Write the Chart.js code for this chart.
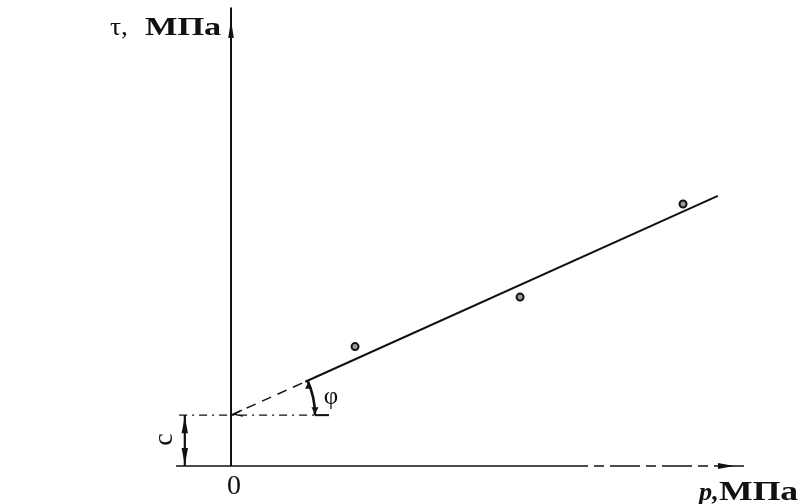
<!DOCTYPE html>
<html>
<head>
<meta charset="utf-8">
<script src="https://cdn.jsdelivr.net/npm/chart.js@4/dist/chart.umd.min.js"></script>
<style>
body { margin: 0; background: #fff; }
canvas { display: block; }
</style>
</head>
<body>
<canvas id="chart" width="807" height="504"></canvas>
<script>
// measured points (p, tau) in chart units
var pValues = [2.39, 5.57, 8.71];
var tauValues = [2.63, 3.72, 5.77];
// fitted line: tau = c + k*p
var cValue = 1.12;
var lineEnds = [0, 1.43, 9.38]; // start, end of dashed part, end of solid part
var slope = (5.95 - cValue) / 9.38;

var points = pValues.map(function (p, i) { return {x: p, y: tauValues[i]}; });
var fit = lineEnds.map(function (p) { return {x: p, y: cValue + slope * p}; });

var annotate = {
    id: 'annotate',
    afterDatasetsDraw: function (chart) {
        var ctx = chart.ctx;
        var sx = chart.scales.x, sy = chart.scales.y;
        var ox = sx.getPixelForValue(0), oy = sy.getPixelForValue(0);
        var cy = sy.getPixelForValue(cValue);
        var bx = sx.getPixelForValue(-0.89);
        ctx.save();
        ctx.fillStyle = '#111';
        ctx.strokeStyle = '#111';

        function tri(x, y, dir, len, w) {
            ctx.beginPath();
            if (dir == 'up') { ctx.moveTo(x, y); ctx.lineTo(x - w, y + len); ctx.lineTo(x + w, y + len); }
            if (dir == 'down') { ctx.moveTo(x, y); ctx.lineTo(x - w, y - len); ctx.lineTo(x + w, y - len); }
            if (dir == 'right') { ctx.moveTo(x, y); ctx.lineTo(x - len, y - w); ctx.lineTo(x - len, y + w); }
            ctx.closePath();
            ctx.fill();
        }
        // text a little wider, like the scanned original
        function wide(txt, x, y, font, sc) {
            ctx.save();
            ctx.font = font;
            ctx.translate(x, y);
            ctx.scale(sc, 1);
            ctx.textAlign = 'left';
            ctx.fillText(txt, 0, 0);
            ctx.restore();
        }
        // axis arrows
        tri(ox, sy.getPixelForValue(10) + 8, 'up', 18, 2.8);
        tri(sx.getPixelForValue(10) - 16, oy, 'right', 16, 3);
        // c bracket arrows
        tri(bx, cy + 1, 'up', 17, 3.2);
        tri(bx, oy - 1, 'down', 17, 3.2);

        // small arrow to the axis at the intercept
        ctx.lineWidth = 1.4;
        ctx.beginPath();
        ctx.moveTo(ox + 11, cy - 5);
        ctx.lineTo(ox + 3, cy - 1);
        ctx.lineTo(ox + 12, cy + 1);
        ctx.stroke();

        // phi arc
        var ang = Math.atan2(sy.getPixelForValue(cValue + slope) - cy, sx.getPixelForValue(1) - ox);
        ctx.lineWidth = 2.6;
        ctx.beginPath();
        ctx.arc(ox, cy, 84, ang, 0);
        ctx.stroke();
        tri(ox + 84 * Math.cos(ang) + 1, cy + 84 * Math.sin(ang) + 1, 'up', 7, 3.5);
        tri(ox + 84, cy - 1, 'down', 7, 3.5);
        ctx.lineWidth = 2;
        ctx.beginPath();
        ctx.moveTo(ox + 84, cy);
        ctx.lineTo(ox + 98, cy);
        ctx.stroke();

        // texts
        ctx.textBaseline = 'alphabetic';
        wide('τ,', 110, 35, '25px "Liberation Serif", serif', 1.1);
        wide('МПа', 145, 35, 'bold 26px "Liberation Serif", serif', 1.32);
        wide('p,', 699, 500, 'bold italic 25px "Liberation Serif", serif', 1.05);
        wide('МПа', 719, 500, 'bold 27px "Liberation Serif", serif', 1.32);
        ctx.textAlign = 'center';
        ctx.font = '28px "Liberation Serif", serif';
        ctx.fillText('0', ox + 3, 494);
        ctx.font = '25px "Liberation Serif", serif';
        ctx.fillText('φ', ox + 100, cy - 11);
        ctx.translate(165, (cy + oy) / 2 - 1);
        ctx.rotate(-Math.PI / 2);
        ctx.textBaseline = 'middle';
        ctx.font = '28px "Liberation Serif", serif';
        ctx.fillText('c', 0, 0);
        ctx.restore();
    }
};

var black = '#111';
new Chart(document.getElementById('chart').getContext('2d'), {
    type: 'scatter',
    data: {
        datasets: [
            {data: [{x: 0, y: 0}, {x: 0, y: 10.1}], showLine: true, borderColor: black, borderWidth: 2, pointRadius: 0},
            {data: [{x: -1.06, y: 0}, {x: 6.3, y: 0}], showLine: true, borderColor: black, borderWidth: 1.7, pointRadius: 0},
            {data: [{x: 6.3, y: 0}, {x: 10, y: 0}], showLine: true, borderColor: black, borderWidth: 1.5, borderDash: [30, 6, 10, 6], pointRadius: 0},
            {data: [{x: -1.0, y: cValue}, {x: 1.9, y: cValue}], showLine: true, borderColor: black, borderWidth: 1.3, borderDash: [8, 5, 2, 5], pointRadius: 0},
            {data: [{x: -0.89, y: 0}, {x: -0.89, y: cValue}], showLine: true, borderColor: black, borderWidth: 2.2, pointRadius: 0},
            {data: fit.slice(0, 2), showLine: true, borderColor: black, borderWidth: 1.5, borderDash: [10, 7], pointRadius: 0},
            {data: fit.slice(1), showLine: true, borderColor: black, borderWidth: 2, pointRadius: 0},
            {data: points, borderColor: black, borderWidth: 2, backgroundColor: '#999', pointRadius: 3.5}
        ]
    },
    options: {
        responsive: false,
        animation: false,
        layout: {padding: {left: 231, right: 57, top: 12, bottom: 38}},
        datasets: {scatter: {clip: false}},
        plugins: {legend: {display: false}, tooltip: {enabled: false}},
        scales: {
            x: {type: 'linear', min: 0, max: 10, display: false},
            y: {type: 'linear', min: 0, max: 10, display: false}
        }
    },
    plugins: [annotate]
});
</script>
</body>
</html>
